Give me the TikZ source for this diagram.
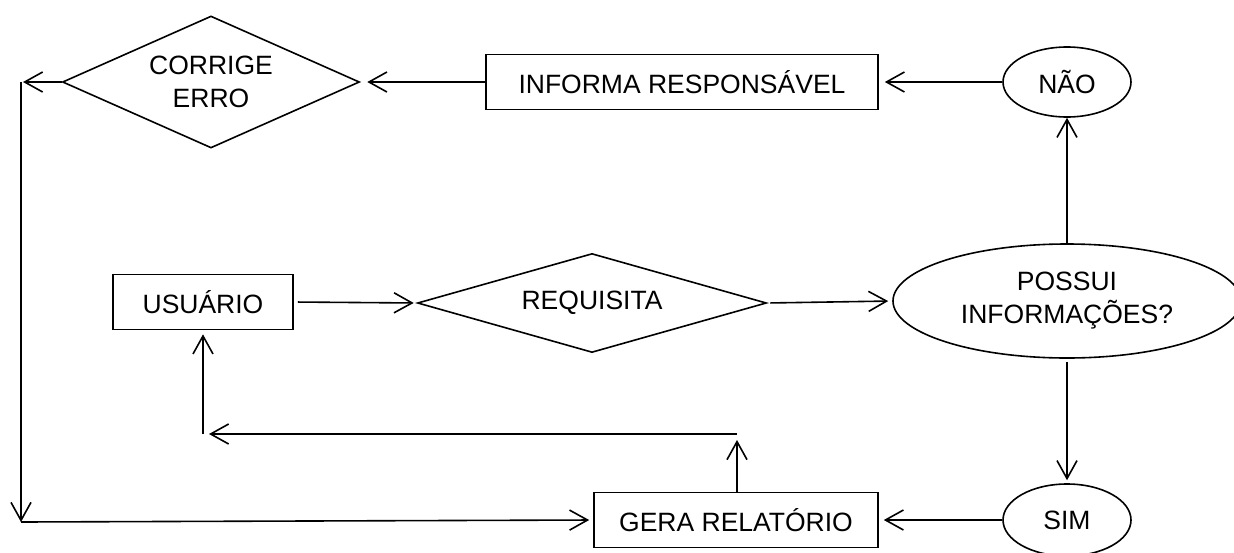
\documentclass[tikz,border=0pt]{standalone}
\usepackage{fontspec}
\setmainfont{Liberation Sans}
\usetikzlibrary{shapes.geometric,arrows.meta}

\tikzset{
    caixa/.style={draw,line width=1.6pt,rectangle,inner sep=0pt,minimum height=55pt},
    losango/.style={draw,line width=1.6pt,diamond,inner sep=0pt,align=center},
    elipse/.style={draw,line width=1.6pt,ellipse,inner sep=0pt,align=center},
    seta/.style={line width=1.6pt,-{Straight Barb[length=18pt,width=20pt,line width=1.6pt]}}
}

\begin{document}
\begin{tikzpicture}[x=1pt,y=-1pt,font=\fontsize{26.5}{33}\selectfont]
        \useasboundingbox (0,0) rectangle (1234,552);
        \node[losango, aspect=2.25, minimum width=297pt, minimum height=132pt] (corrige) at (211,82) {CORRIGE\\ERRO};
        \node[caixa, minimum width=392pt] (informa) at (682,82) {INFORMA RESPONSÁVEL};
        \node[elipse, minimum width=128pt, minimum height=70pt] (nao) at (1067,82) {NÃO};
        \node[elipse, minimum width=348pt, minimum height=114pt] (possui) at (1067,301) {POSSUI\\INFORMAÇÕES?};
        \node[caixa, minimum width=180pt] (usuario) at (203,302) {USUÁRIO};
        \node[losango, aspect=3.5, minimum width=349pt, minimum height=99pt] (requisita) at (592,303) {REQUISITA};
        \node[caixa, minimum width=284pt] (gera) at (736,520) {GERA RELATÓRIO};
        \node[elipse, minimum width=128pt, minimum height=72pt] (sim) at (1067,520) {SIM};

        \coordinate (cantoA) at (21,82);
        \coordinate (cantoB) at (21,522);
        \coordinate (voltaA) at (737,434);
        \coordinate (voltaB) at (203,434);

        \draw[seta, shorten >=6pt] (nao.west) -- (informa.east);
        \draw[seta, shorten >=7pt] (informa.west) -- (corrige.east);
        \draw[seta, shorten >=2pt] (corrige.west) -- (cantoA);
        \draw[seta] (cantoA) -- (cantoB);
        \draw[seta, shorten >=4pt] (cantoB) -- (gera.west);
        \draw[seta, shorten <=4pt, shorten >=3pt] (usuario.east) -- (requisita.west);
        \draw[seta, shorten <=3pt, shorten >=4pt] (requisita.east) -- (possui.west);
        \draw[seta] (possui.north) -- (nao.south);
        \draw[seta, shorten <=3pt, shorten >=3pt] (possui.south) -- (sim.north);
        \draw[seta, shorten >=5pt] (sim.west) -- (gera.east);
        \draw[seta, shorten >=6pt] (gera.north -| voltaA) -- (voltaA);
        \draw[seta, shorten >=6pt] (voltaA) -- (voltaB);
        \draw[seta, shorten >=4pt] (voltaB) -- (usuario.south);
\end{tikzpicture}
\end{document}
